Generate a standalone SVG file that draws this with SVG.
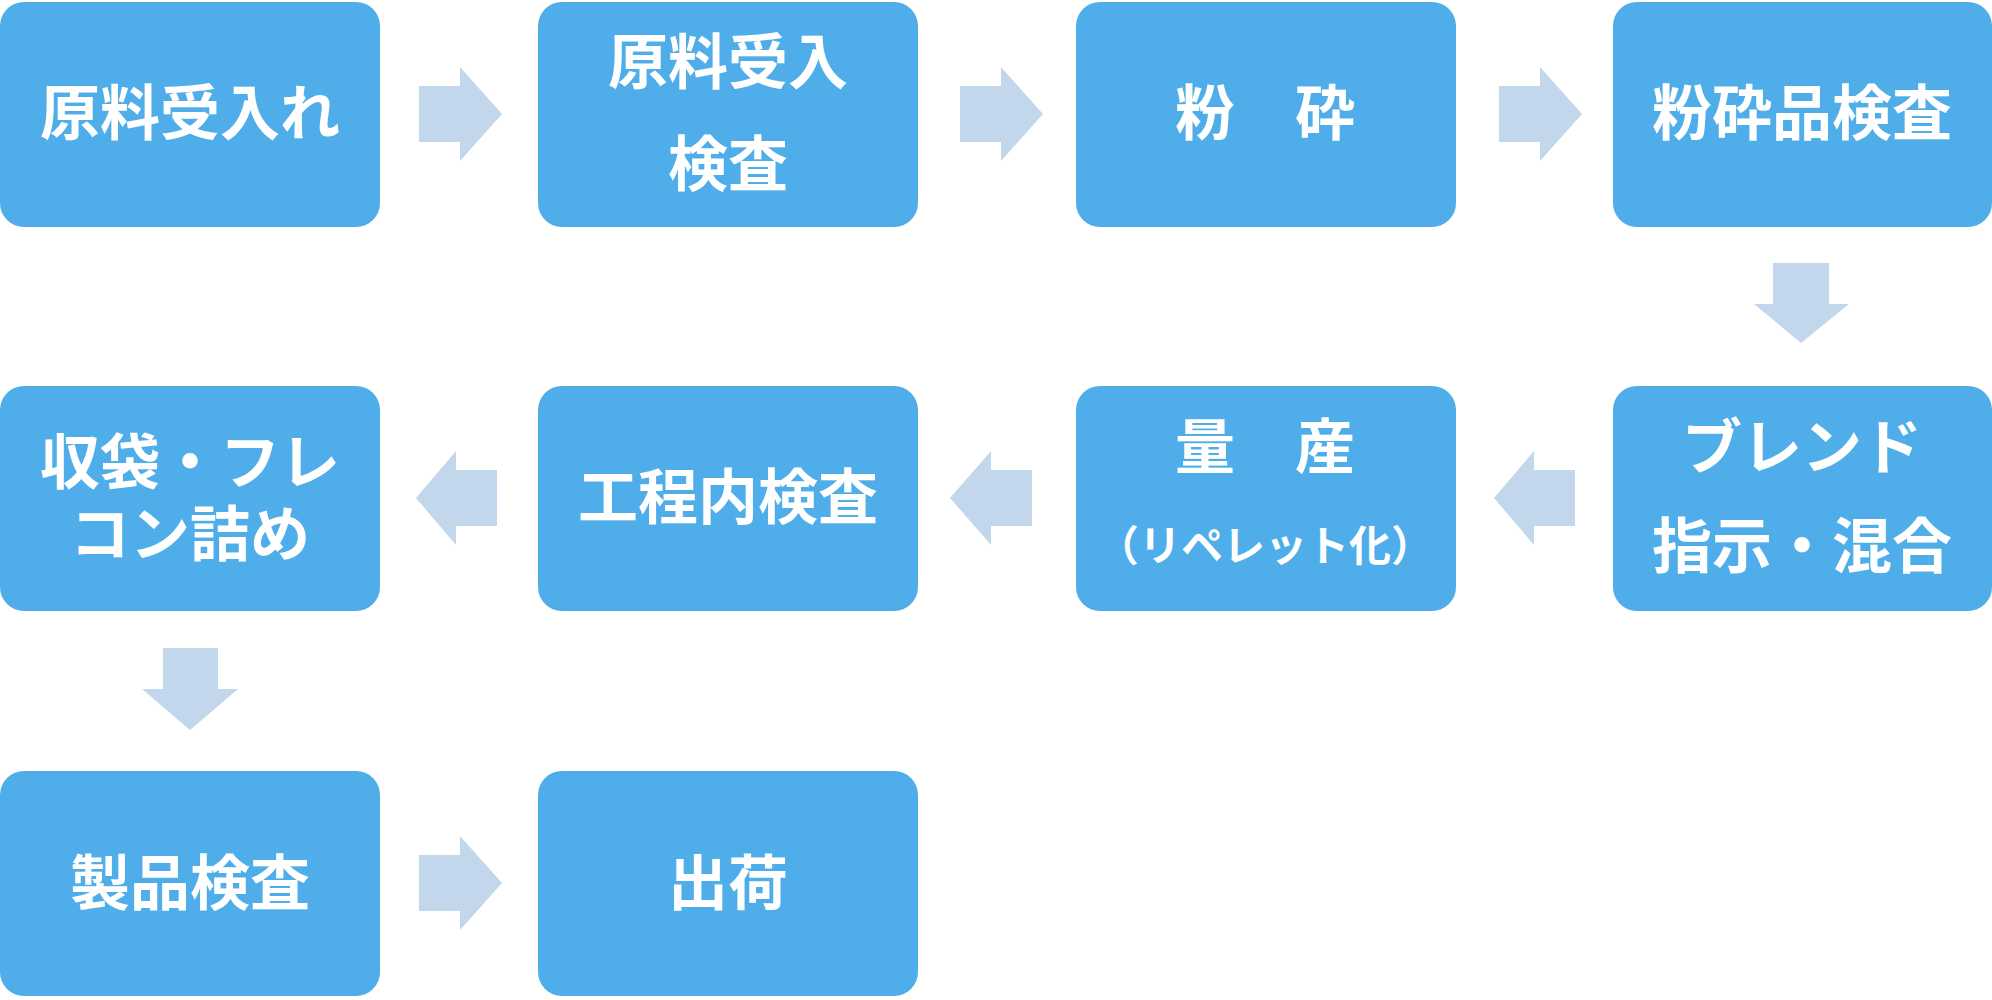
<svg xmlns="http://www.w3.org/2000/svg" width="1992" height="1000" viewBox="0 0 1992 1000">
<style>
.box{fill:#4FAEE9}
.arr{fill:#C3D7EC}
.t{fill:#FFFFFF;font-family:"Noto Sans CJK JP","Noto Sans CJK SC",sans-serif;font-weight:bold;font-size:60px;text-anchor:middle;dominant-baseline:central}
.s{font-size:42px}
</style>
<rect width="1992" height="1000" fill="#FFFFFF"/>
<g id="connectors">
<path class="arr" d="M419,86 H460 V67 L502,114 L460,161 V142 H419 Z"/>
<path class="arr" d="M960,86 H1001 V67 L1043,114 L1001,161 V142 H960 Z"/>
<path class="arr" d="M1499,86 H1540 V67 L1582,114 L1540,161 V142 H1499 Z"/>
<path class="arr" d="M1773,263 V304 H1754 L1801,343 L1849,304 H1829 V263 Z"/>
<path class="arr" d="M1575,470 H1534 V451 L1494,498 L1534,545 V526 H1575 Z"/>
<path class="arr" d="M1032,470 H991 V451 L950,498 L991,545 V526 H1032 Z"/>
<path class="arr" d="M497,470 H456 V451 L416,498 L456,545 V526 H497 Z"/>
<path class="arr" d="M163,648 V689 H142 L190,730 L238,689 H218 V648 Z"/>
<path class="arr" d="M419,855 H460 V836 L502,883 L460,930 V911 H419 Z"/>
</g>
<g id="n1"><rect class="box" x="0" y="2" width="380" height="225" rx="24"/><text class="t" x="190" y="108">原料受入れ</text></g>
<g id="n2"><rect class="box" x="538" y="2" width="380" height="225" rx="24"/><text class="t" x="728" y="57">原料受入</text><text class="t" x="728" y="159">検査</text></g>
<g id="n3"><rect class="box" x="1076" y="2" width="380" height="225" rx="24"/><text class="t" x="1265" y="108">粉　砕</text></g>
<g id="n4"><rect class="box" x="1613" y="2" width="379" height="225" rx="24"/><text class="t" x="1802" y="108">粉砕品検査</text></g>
<g id="n5"><rect class="box" x="1613" y="386" width="379" height="225" rx="24"/><text class="t" x="1802" y="442">ブレンド</text><text class="t" x="1802" y="541">指示・混合</text></g>
<g id="n6"><rect class="box" x="1076" y="386" width="380" height="225" rx="24"/><text class="t" x="1265" y="442">量　産</text><text class="t s" x="1265" y="542">（リペレット化）</text></g>
<g id="n7"><rect class="box" x="538" y="386" width="380" height="225" rx="24"/><text class="t" x="728" y="492">工程内検査</text></g>
<g id="n8"><rect class="box" x="0" y="386" width="380" height="225" rx="24"/><text class="t" x="190" y="457">収袋・フレ<tspan x="190" dy="72">コン詰め</tspan></text></g>
<g id="n9"><rect class="box" x="0" y="771" width="380" height="225" rx="24"/><text class="t" x="190" y="878">製品検査</text></g>
<g id="n10"><rect class="box" x="538" y="771" width="380" height="225" rx="24"/><text class="t" x="728" y="878">出荷</text></g>
</svg>
